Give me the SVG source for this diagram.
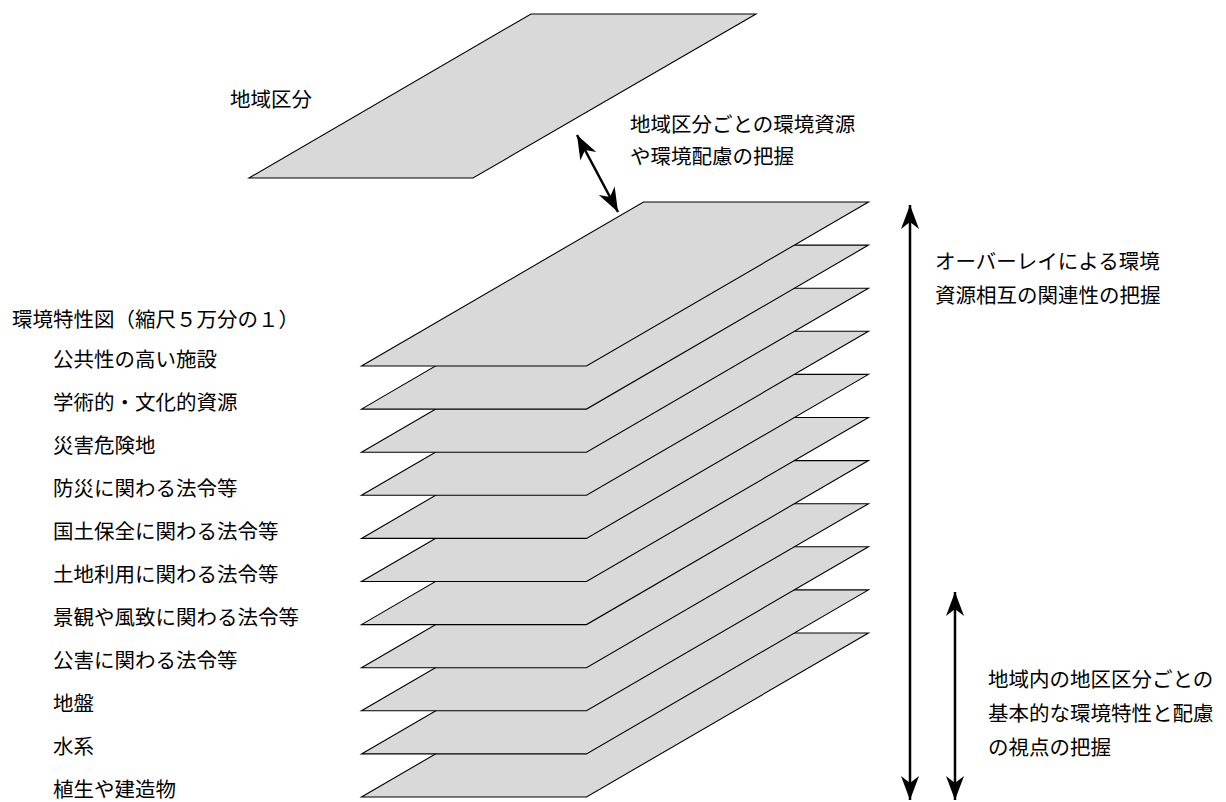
<svg xmlns="http://www.w3.org/2000/svg" width="1226" height="802" viewBox="0 0 1226 802">
<style>
.pl{fill:#d9d9d9;stroke:#000;stroke-width:1.1;stroke-linejoin:miter}
.t{font-family:"Noto Sans CJK JP","Noto Sans",sans-serif;font-size:20.5px;fill:#000}
.ar{stroke:#000;stroke-width:2.5;fill:none}
</style>
<defs>
<marker id="ah" markerUnits="userSpaceOnUse" viewBox="-26 -11 28 22" refX="0" refY="0" markerWidth="28" markerHeight="22" orient="auto-start-reverse">
<path d="M0,0 L-24,-9 L-17,0 L-24,9 Z" fill="#000"/>
</marker>
</defs>
<rect width="1226" height="802" fill="#fff"/>
<g id="region-plane">
<polygon class="pl" points="249,178 473,178 756,14 531,14"/>
<text class="t" x="230" y="107">地域区分</text>
</g>
<g id="layers">
<polygon id="layer11" class="pl" points="361.5,797 586.5,797 868.5,633 643.5,633"/>
<polygon id="layer10" class="pl" points="361.5,753.9 586.5,753.9 868.5,589.9 643.5,589.9"/>
<polygon id="layer9" class="pl" points="361.5,710.8 586.5,710.8 868.5,546.8 643.5,546.8"/>
<polygon id="layer8" class="pl" points="361.5,667.7 586.5,667.7 868.5,503.7 643.5,503.7"/>
<polygon id="layer7" class="pl" points="361.5,624.6 586.5,624.6 868.5,460.6 643.5,460.6"/>
<polygon id="layer6" class="pl" points="361.5,581.5 586.5,581.5 868.5,417.5 643.5,417.5"/>
<polygon id="layer5" class="pl" points="361.5,538.4 586.5,538.4 868.5,374.4 643.5,374.4"/>
<polygon id="layer4" class="pl" points="361.5,495.3 586.5,495.3 868.5,331.3 643.5,331.3"/>
<polygon id="layer3" class="pl" points="361.5,452.2 586.5,452.2 868.5,288.2 643.5,288.2"/>
<polygon id="layer2" class="pl" points="361.5,409.1 586.5,409.1 868.5,245.1 643.5,245.1"/>
<polygon id="layer1" class="pl" points="361.5,366 586.5,366 868.5,202 643.5,202"/>
</g>
<g id="labels">
<text class="t" x="12" y="327">環境特性図（縮尺５万分の１）</text>
<text class="t" x="53" y="367">公共性の高い施設</text>
<text class="t" x="53" y="410">学術的・文化的資源</text>
<text class="t" x="53" y="453">災害危険地</text>
<text class="t" x="53" y="496">防災に関わる法令等</text>
<text class="t" x="53" y="539">国土保全に関わる法令等</text>
<text class="t" x="53" y="582">土地利用に関わる法令等</text>
<text class="t" x="53" y="625">景観や風致に関わる法令等</text>
<text class="t" x="53" y="668">公害に関わる法令等</text>
<text class="t" x="53" y="711">地盤</text>
<text class="t" x="53" y="754">水系</text>
<text class="t" x="53" y="797">植生や建造物</text>
</g>
<g id="connectors">
<line class="ar" x1="577" y1="135" x2="618" y2="212" marker-start="url(#ah)" marker-end="url(#ah)"/>
<line class="ar" x1="910" y1="205" x2="910" y2="800" marker-start="url(#ah)" marker-end="url(#ah)"/>
<line class="ar" x1="955" y1="592" x2="955" y2="800" marker-start="url(#ah)" marker-end="url(#ah)"/>
</g>
<g id="notes">
<text class="t" x="630" y="132">地域区分ごとの環境資源</text>
<text class="t" x="630" y="164">や環境配慮の把握</text>
<text class="t" x="935" y="269">オーバーレイによる環境</text>
<text class="t" x="935" y="303">資源相互の関連性の把握</text>
<text class="t" x="988" y="687">地域内の地区区分ごとの</text>
<text class="t" x="988" y="721">基本的な環境特性と配慮</text>
<text class="t" x="988" y="755">の視点の把握</text>
</g>
</svg>
